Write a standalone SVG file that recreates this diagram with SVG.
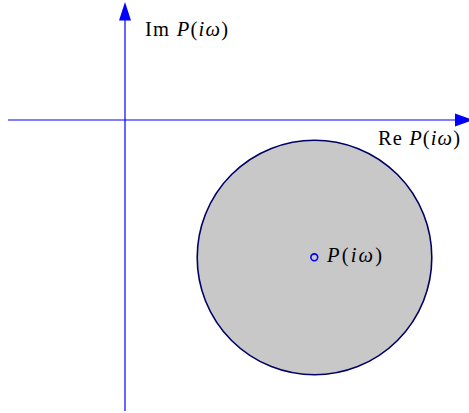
<svg xmlns="http://www.w3.org/2000/svg" width="469" height="413" viewBox="0 0 469 413">
<style>
.ax{stroke:#0000ff;stroke-width:1.2;fill:none}
.ah{fill:#0000ff;stroke:none}
.t{font-family:"Liberation Serif","DejaVu Serif",serif;font-size:20.5px;fill:#000}
.i{font-style:italic}
</style>
<rect width="469" height="413" fill="#fff"/>
<g id="connectors">
<line class="ax" x1="8" y1="120" x2="456" y2="120"/>
<polygon class="ah" points="455,113.5 473,120 455,126.5"/>
<line class="ax" x1="125" y1="411" x2="125" y2="19"/>
<polygon class="ah" points="119,20.5 125,2 131,20.5"/>
</g>
<g id="disk">
<circle cx="314.5" cy="257.5" r="117.3" fill="#c8c8c8" stroke="#000066" stroke-width="1.6"/>
</g>
<g id="point">
<circle cx="314.3" cy="257.3" r="3.4" fill="none" stroke="#0000ff" stroke-width="1.6"/>
<text class="t" x="327" y="262" textLength="55" lengthAdjust="spacing"><tspan class="i">P</tspan>(<tspan class="i">iω</tspan>)</text>
</g>
<g id="label-im">
<text class="t" x="145" y="36" textLength="83" lengthAdjust="spacing">Im <tspan class="i">P</tspan>(<tspan class="i">iω</tspan>)</text>
</g>
<g id="label-re">
<text class="t" x="378" y="145" textLength="82" lengthAdjust="spacing">Re <tspan class="i">P</tspan>(<tspan class="i">iω</tspan>)</text>
</g>
</svg>
